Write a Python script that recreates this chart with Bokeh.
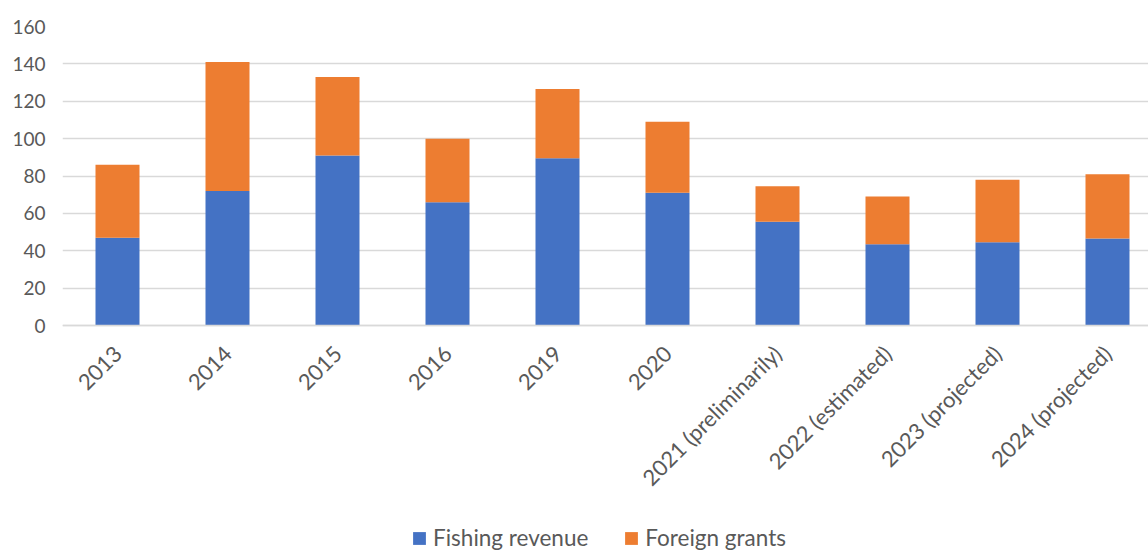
from bokeh.plotting import figure
from bokeh.models import (ColumnDataSource, Range1d, FixedTicker, Legend, LegendItem)
from bokeh.embed import file_html
from bokeh.resources import INLINE
import math

categories = ["2013", "2014", "2015", "2016", "2019", "2020",
              "2021 (preliminarily)", "2022 (estimated)", "2023 (projected)", "2024 (projected)"]
fishing_revenue = [47, 72, 91, 66, 89.5, 71, 55.5, 43.5, 44.5, 46.5]
foreign_grants = [39, 69, 42, 34, 37, 38, 19, 25.5, 33.5, 34.5]
y_ticks = [0, 20, 40, 60, 80, 100, 120, 140, 160]

FONT = "Lato"
GRAY = "#595959"

xs = list(range(len(categories)))
src = ColumnDataSource(dict(x=xs, fishing=fishing_revenue, grants=foreign_grants))

# frame spans the full lower area so the legend can sit inside it
FRAME_H = 526
PX_PER_UNIT = 299 / 160
y_min = 160 - FRAME_H / PX_PER_UNIT

p = figure(frame_width=1086, frame_height=FRAME_H, output_backend="svg", toolbar_location=None,
           x_range=Range1d(-0.5, 1086 / 110 - 0.5), y_range=Range1d(y_min, 160),
           min_border_left=62, min_border_right=0, min_border_top=26, min_border_bottom=0)

rs = p.vbar_stack(["fishing", "grants"], x="x", width=0.4, source=src,
                  color=["#4472C4", "#ED7D31"], line_color=None)

p.outline_line_color = None
p.background_fill_color = "white"
p.border_fill_color = "white"

p.xgrid.visible = False
p.ygrid.grid_line_color = "#d9d9d9"
p.ygrid.grid_line_width = 1.5
p.yaxis.ticker = FixedTicker(ticks=y_ticks)
p.yaxis.axis_line_color = None
p.yaxis.major_tick_line_color = None
p.yaxis.minor_tick_line_color = None
p.yaxis.major_label_text_font = FONT
p.yaxis.major_label_text_font_size = "19px"
p.yaxis.major_label_text_color = GRAY
p.yaxis.major_label_standoff = 11

p.xaxis.fixed_location = 0
p.xaxis.ticker = FixedTicker(ticks=xs)
p.xaxis.major_label_overrides = {i: c for i, c in zip(xs, categories)}
p.xaxis.axis_line_color = "#d9d9d9"
p.xaxis.axis_line_width = 1.5
p.xaxis.major_tick_line_color = None
p.xaxis.minor_tick_line_color = None
p.xaxis.major_label_orientation = math.pi / 4
p.xaxis.major_label_text_font = FONT
p.xaxis.major_label_text_font_size = "22px"
p.xaxis.major_label_text_color = GRAY
p.xaxis.major_label_standoff = 18

legend = Legend(items=[LegendItem(label="Fishing revenue", renderers=[rs[0]]),
                       LegendItem(label="Foreign grants", renderers=[rs[1]])],
                orientation="horizontal", location=(349, 1),
                label_text_font=FONT, label_text_font_size="22.5px", label_text_color=GRAY,
                glyph_width=16, glyph_height=16, label_standoff=6, spacing=35,
                border_line_color=None, background_fill_alpha=0, padding=4, margin=0)
p.add_layout(legend, "center")

open("out.html", "w").write(file_html(p, INLINE))
